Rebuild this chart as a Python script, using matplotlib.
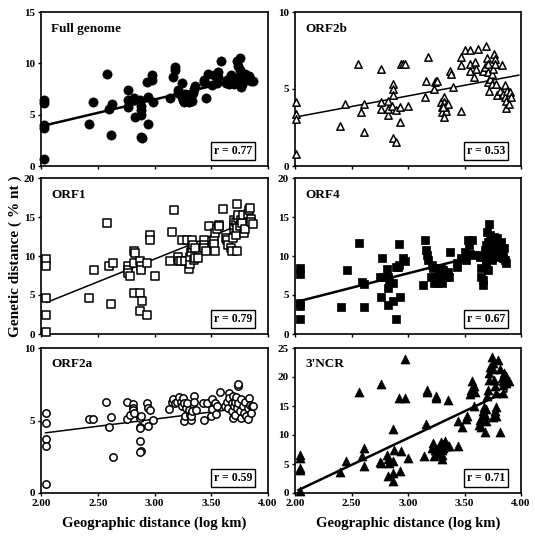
import matplotlib
matplotlib.use("Agg")
import matplotlib.pyplot as plt

plt.rcParams['font.family'] = ['Liberation Serif', 'DejaVu Serif']
plt.rcParams['font.weight'] = 'bold'

# ---- data ----
genome_x = [2.03, 2.03, 2.03, 2.03, 2.03,
            2.42, 2.46, 2.58, 2.60, 2.625, 2.62,
            2.77, 2.77, 2.77,
            2.82, 2.82, 2.83,
            2.87, 2.88, 2.88, 2.88,
            2.88, 2.89,
            2.93, 2.94, 2.94,
            2.98, 2.98, 2.99,
            3.14, 3.16, 3.18, 3.18,
            3.21, 3.21, 3.24, 3.24, 3.25, 3.26,
            3.28, 3.29, 3.31, 3.32, 3.34, 3.35, 3.36,
            3.45, 3.44, 3.44, 3.47, 3.51, 3.52, 3.56, 3.56, 3.59, 3.55,
            3.63, 3.64, 3.65, 3.67, 3.68, 3.69, 3.71,
            3.73, 3.75, 3.74, 3.75, 3.76, 3.76,
            3.77, 3.79, 3.80, 3.83, 3.85, 3.87,
            3.66, 3.70, 3.72, 3.78, 3.81, 3.30, 3.33, 3.27]
genome_y = [6.4, 6.1, 4.0, 3.7, 0.7,
            4.1, 6.2, 9.0, 5.55, 6.0, 3.0,
            7.4, 6.4, 5.7,
            6.6, 6.4, 4.8,
            6.4, 5.8, 5.5, 5.0,
            2.85, 2.7,
            8.2, 6.75, 4.1,
            8.9, 8.4, 6.2,
            6.65, 8.7, 9.6, 9.35,
            7.4, 7.1, 8.1, 6.75, 6.4, 6.2,
            6.4, 6.6, 6.4, 6.8, 7.1, 7.5, 7.8,
            6.65, 8.2, 8.4, 9.0, 7.9, 8.9, 9.2, 8.7, 10.2, 8.1,
            8.1, 8.4, 8.2, 8.9, 8.3, 8.5, 8.2,
            10.2, 10.5, 9.7, 9.35, 8.7, 7.65,
            8.0, 8.6, 9.0, 8.8, 8.3, 8.3,
            8.0, 8.0, 8.6, 8.2, 8.5, 6.2, 6.3, 7.0]

orf2b_x = [2.01, 2.01, 2.01, 2.01,
           2.40, 2.44, 2.56, 2.58, 2.61, 2.61,
           2.76, 2.76, 2.76, 2.82, 2.82, 2.82, 2.86,
           2.87, 2.87, 2.87, 2.87, 2.89, 2.89,
           2.93, 2.93, 2.94, 2.96, 2.97, 3.00,
           3.15, 3.16, 3.18, 3.23, 3.24, 3.25, 3.26,
           3.29, 3.30, 3.30, 3.32, 3.32, 3.33, 3.34, 3.35, 3.32, 3.31,
           3.37, 3.38, 3.40, 3.47, 3.47, 3.47,
           3.50, 3.55, 3.55, 3.55, 3.58, 3.59, 3.60, 3.62,
           3.66, 3.68, 3.69, 3.70, 3.71, 3.71, 3.71, 3.72, 3.73, 3.74,
           3.74, 3.75, 3.76, 3.77, 3.77, 3.78, 3.79, 3.81, 3.83, 3.84,
           3.86, 3.86, 3.87, 3.87, 3.88, 3.89, 3.90, 3.91]
orf2b_y = [4.15, 3.4, 3.07, 0.75,
           2.6, 4.05, 6.6, 3.5, 2.2, 4.05,
           6.3, 4.15, 3.7, 4.25, 3.3, 3.7, 3.9,
           5.3, 5.0, 4.6, 1.85, 1.55, 3.65,
           3.85, 2.85, 6.6, 6.65, 6.6, 3.9,
           4.5, 5.5, 7.1, 5.0, 5.45, 5.55, 5.55,
           4.15, 3.83, 3.5, 4.5, 4.15, 3.83, 3.6, 4.05, 3.2, 3.83,
           6.2, 6.0, 5.1, 6.55, 7.1, 3.6,
           7.55, 7.55, 6.65, 6.15, 5.8, 6.75, 6.3, 7.6,
           6.2, 6.4, 7.8, 7.0, 6.65, 6.1, 5.45, 4.9, 5.65, 6.0,
           5.35, 6.3, 7.3, 6.95, 6.65, 5.35, 4.6, 4.9, 6.55, 4.7,
           5.25, 4.5, 4.25, 3.75, 4.9, 4.05, 4.8, 4.5]

orf1_x = [2.04, 2.04, 2.04, 2.04, 2.04,
          2.42, 2.47, 2.58, 2.60, 2.63, 2.62,
          2.77, 2.77, 2.77, 2.78,
          2.82, 2.83, 2.82, 2.82,
          2.87, 2.88, 2.88, 2.87, 2.87, 2.89,
          2.93, 2.93, 2.96, 2.96, 3.00,
          3.14, 3.15, 3.17, 3.21, 3.22, 3.23, 3.24,
          3.27, 3.29, 3.30, 3.31, 3.31, 3.32, 3.33, 3.33, 3.34, 3.35, 3.36, 3.36, 3.38,
          3.44, 3.44, 3.44, 3.45, 3.48, 3.52, 3.52, 3.53, 3.53,
          3.55, 3.57, 3.57, 3.60,
          3.63, 3.64, 3.65, 3.67, 3.68, 3.69, 3.70, 3.70, 3.70, 3.72,
          3.72, 3.73, 3.74, 3.74, 3.75, 3.76, 3.77, 3.78, 3.79, 3.80,
          3.82, 3.83, 3.84, 3.85, 3.85, 3.87, 3.73, 3.73]
orf1_y = [9.6, 8.7, 4.6, 2.4, 0.25,
          4.65, 8.2, 14.2, 8.7, 9.1, 3.85,
          8.7, 8.25, 7.8, 7.4,
          10.6, 10.4, 9.1, 5.25,
          9.3, 8.7, 8.25, 5.25, 3.0, 4.2,
          9.1, 2.45, 12.7, 12.0, 7.4,
          9.3, 13.1, 15.9, 9.9, 9.3, 9.3, 12.0,
          9.3, 12.0, 8.3, 9.0, 9.9, 10.5, 11.0, 12.0, 11.45, 9.5, 11.0, 9.75, 9.75,
          12.0, 11.45, 11.0, 10.6, 13.8, 12.0, 11.6, 10.6, 12.9,
          13.4, 14.0, 13.8, 16.0,
          12.3, 12.0, 11.45, 11.0, 10.6, 12.3, 13.4, 14.0, 14.65, 14.3,
          12.7, 13.6, 14.9, 15.3, 13.9, 14.65, 14.2, 15.2, 13.0, 13.5,
          15.4, 15.9, 16.2, 14.7, 14.3, 14.1, 16.7, 10.6]

orf4_x = [2.04, 2.04, 2.04, 2.04, 2.04,
          2.41, 2.46, 2.57, 2.59, 2.61, 2.61,
          2.77, 2.75, 2.76, 2.79, 2.81, 2.82, 2.82, 2.82, 2.83,
          2.87, 2.87, 2.89, 2.89, 2.91, 2.92, 2.92, 2.93, 2.96, 2.97,
          3.13, 3.15, 3.16, 3.17, 3.18, 3.20, 3.21, 3.22, 3.23, 3.24,
          3.25, 3.26, 3.27, 3.29, 3.30, 3.30, 3.31, 3.32, 3.33, 3.35, 3.36,
          3.37, 3.43, 3.43, 3.47, 3.50, 3.51, 3.53, 3.54, 3.55, 3.57, 3.58,
          3.63, 3.64, 3.65, 3.65, 3.66, 3.66,
          3.67, 3.68, 3.69, 3.69, 3.70, 3.71, 3.72, 3.73, 3.73, 3.74,
          3.75, 3.76, 3.76, 3.77, 3.78, 3.79, 3.79, 3.80, 3.81, 3.82,
          3.82, 3.83, 3.84, 3.85, 3.86, 3.87, 3.84, 3.69, 3.71]
orf4_y = [8.4, 7.7, 3.95, 3.6, 1.95,
          3.5, 8.2, 11.7, 6.7, 6.4, 3.5,
          9.7, 7.3, 4.8, 7.3, 8.3, 7.3, 5.9, 3.75, 6.9,
          6.5, 4.2, 1.9, 8.6, 8.6, 8.85, 11.6, 4.8, 9.8, 9.4,
          6.3, 12.0, 10.8, 10.1, 9.5, 7.35, 8.85, 8.4, 6.5, 7.35,
          6.9, 6.5, 7.8, 8.4, 6.5, 7.15, 8.2, 7.8, 7.35, 8.0, 7.35,
          10.55, 9.05, 8.55, 9.8, 10.55, 9.5, 12.1, 11.4, 10.3, 12.0, 10.1,
          10.1, 9.9, 8.4, 7.35, 6.9, 6.3,
          9.9, 10.75, 9.5, 11.4, 13.1, 11.8, 14.1, 10.3, 12.7, 9.5,
          11.4, 12.5, 10.55, 11.8, 11.2, 10.1, 12.25, 9.9, 10.75, 11.8,
          11.4, 10.3, 9.7, 11.0, 9.5, 9.05, 9.9, 8.85, 8.2]

orf2a_x = [2.04, 2.04, 2.04, 2.04, 2.04,
           2.42, 2.46, 2.57, 2.60, 2.62, 2.63,
           2.76, 2.76, 2.78, 2.81, 2.81, 2.81, 2.82,
           2.87, 2.88, 2.87, 2.87, 2.87, 2.88, 2.87,
           2.93, 2.94, 2.96, 2.94, 2.99,
           3.13, 3.15, 3.16, 3.18, 3.20, 3.22, 3.23, 3.24, 3.25, 3.26, 3.26,
           3.27, 3.28, 3.29, 3.30, 3.31, 3.32, 3.32, 3.33, 3.35, 3.35, 3.37,
           3.43, 3.44, 3.46, 3.50, 3.51, 3.51, 3.53, 3.54, 3.55, 3.58,
           3.62, 3.64, 3.65, 3.66, 3.66, 3.68, 3.68, 3.69, 3.69, 3.70,
           3.71, 3.71, 3.72, 3.73, 3.74, 3.74, 3.74, 3.75, 3.76, 3.76,
           3.78, 3.79, 3.80, 3.81, 3.82, 3.82, 3.83, 3.84, 3.85, 3.86, 3.87]
orf2a_y = [5.5, 4.8, 3.75, 3.25, 0.65,
           5.1, 5.1, 6.3, 4.55, 5.25, 2.45,
           6.3, 5.1, 5.35, 6.15, 5.85, 5.75, 5.5,
           5.15, 5.3, 4.55, 4.45, 3.6, 2.9, 2.8,
           6.2, 5.85, 5.75, 4.65, 5.05,
           5.8, 6.3, 6.5, 6.2, 6.3, 6.6, 6.3, 6.0, 6.55, 6.2, 4.95,
           5.3, 5.85, 6.2, 5.7, 5.4, 5.05, 5.3, 5.65, 6.7, 6.25, 5.75,
           6.2, 5.05, 6.2, 5.3, 5.8, 6.45, 6.2, 5.45, 6.0, 7.0,
           6.0, 6.3, 5.85, 6.9, 6.55, 6.2, 5.65, 5.2, 6.7, 6.0,
           6.3, 5.4, 6.6, 5.85, 6.2, 7.35, 7.55, 5.65, 5.15, 6.45,
           6.0, 5.55, 6.25, 5.3, 5.85, 5.1, 6.55, 6.1, 5.55, 6.0, 6.0]

ncr_x = [2.04, 2.04, 2.04, 2.04, 2.04,
         2.40, 2.45, 2.57, 2.59, 2.61, 2.61,
         2.76, 2.75, 2.76, 2.81, 2.82, 2.82, 2.83,
         2.87, 2.88, 2.87, 2.87, 2.87, 2.92, 2.97, 2.93, 2.94, 2.97, 3.00,
         3.14, 3.16, 3.17, 3.17, 3.21, 3.22, 3.23, 3.24, 3.25, 3.25,
         3.27, 3.27, 3.29, 3.30, 3.30, 3.31, 3.32, 3.33, 3.33, 3.35,
         3.30, 3.35, 3.36, 3.44, 3.44, 3.48, 3.51, 3.52,
         3.55, 3.56, 3.57, 3.58, 3.59, 3.58,
         3.63, 3.64, 3.65, 3.66, 3.66, 3.67, 3.68, 3.68, 3.69, 3.69,
         3.70, 3.71, 3.72, 3.72, 3.73, 3.74, 3.75, 3.75, 3.76, 3.77,
         3.78, 3.78, 3.80, 3.81, 3.83, 3.84, 3.84, 3.85, 3.87, 3.87,
         3.89, 3.75, 3.77, 3.78, 3.81, 3.84]
ncr_y = [6.6, 6.0, 4.3, 4.0, 0.3,
         3.55, 5.45, 17.5, 6.3, 7.75, 4.7,
         18.85, 5.3, 5.2, 6.6, 5.85, 2.9, 5.2,
         11.0, 7.5, 5.45, 3.45, 2.0, 16.4, 16.4, 3.75, 7.2, 23.1, 6.0,
         6.3, 11.9, 17.8, 17.5, 7.75, 8.6, 6.3, 7.5, 16.7, 16.4,
         6.9, 8.15, 8.75, 7.5, 6.6, 7.75, 8.6, 9.0, 8.05, 8.15,
         5.85, 16.1, 8.15, 12.35, 8.15, 11.4, 12.8, 13.2,
         17.0, 17.8, 19.25, 18.4, 17.5, 15.05,
         11.8, 12.6, 11.4, 13.3, 14.1, 14.9, 13.5, 10.45, 14.4, 12.35,
         16.7, 17.8, 19.5, 20.7, 21.8, 23.45, 22.5, 21.3, 19.5, 18.4,
         17.2, 14.9, 23.0, 21.3, 19.8, 18.7, 19.25, 20.7, 20.2, 19.0,
         19.25, 13.1, 14.1, 13.3, 10.6, 17.2]

# regression line ends (x0, y0, x1, y1) and r values
fits = {
    'Full genome': (2.05, 4.0, 3.85, 8.7),
    'ORF2b': (2.02, 3.2, 3.98, 5.9),
    'ORF1': (2.05, 4.05, 3.82, 14.4),
    'ORF4': (2.02, 4.15, 3.87, 11.0),
    'ORF2a': (2.04, 4.15, 3.87, 5.95),
    "3'NCR": (2.03, 0.5, 3.87, 17.5),
}
r_labels = {'Full genome': '0.77', 'ORF2b': '0.53', 'ORF1': '0.79',
            'ORF4': '0.67', 'ORF2a': '0.59', "3'NCR": '0.71'}
x_ticks = [2.00, 2.50, 3.00, 3.50, 4.00]

panels = [
    # name, x, y, ymax, ytick step, marker, facecolor, size, line width
    ('Full genome', genome_x, genome_y, 15, 5, 'o', 'black', 44, 1.8),
    ('ORF2b', orf2b_x, orf2b_y, 10, 5, '^', 'white', 28, 1.1),
    ('ORF1', orf1_x, orf1_y, 20, 5, 's', 'white', 30, 1.1),
    ('ORF4', orf4_x, orf4_y, 20, 5, 's', 'black', 38, 1.8),
    ('ORF2a', orf2a_x, orf2a_y, 10, 5, 'o', 'white', 28, 1.1),
    ("3'NCR", ncr_x, ncr_y, 25, 5, '^', 'black', 42, 1.8),
]

fig = plt.figure(figsize=(5.35, 5.38), dpi=100)

col_left = [41 / 535, 295 / 535]
col_width = [227 / 535, 226 / 535]
rows = [(12, 166), (178, 334), (348, 493)]

for i, (name, xs, ys, ymax, step, mk, fc, size, lw) in enumerate(panels):
    r, c = divmod(i, 2)
    top, bot = rows[r]
    ax = fig.add_axes([col_left[c], 1 - bot / 538, col_width[c], (bot - top) / 538])

    ax.scatter(xs, ys, marker=mk, s=size, facecolors=fc, edgecolors='black',
               linewidths=1.1 if fc == 'white' else 0.5, zorder=3, clip_on=False)
    x0, y0, x1, y1 = fits[name]
    ax.plot([x0, x1], [y0, y1], color='black', lw=lw, zorder=2)

    ax.set_xlim(2.0, 4.0)
    ax.set_ylim(0, ymax)
    ax.set_yticks(range(0, ymax + 1, step))
    ax.set_xticks(x_ticks)
    ax.tick_params(length=2.5, width=1, labelsize=8, pad=2)
    for sp in ax.spines.values():
        sp.set_linewidth(1.2)

    if r == 2:
        ax.set_xticklabels(['%.2f' % t for t in x_ticks], fontweight='bold')
        ax.set_xlabel('Geographic distance (log km)', fontsize=10.5,
                      fontweight='bold', labelpad=6)
    else:
        ax.set_xticklabels([])
    for lab in ax.get_yticklabels():
        lab.set_fontweight('bold')

    ax.text(0.045, 0.93, name, transform=ax.transAxes, fontsize=9.5,
            fontweight='bold', va='top', ha='left')
    ax.text(0.93, 0.06, 'r = ' + r_labels[name], transform=ax.transAxes,
            fontsize=8.5, fontweight='bold', ha='right', va='bottom',
            bbox=dict(boxstyle='square,pad=0.25', fc='white', ec='black', lw=1.0),
            zorder=5)

fig.text(0.028, 1 - 256 / 538, 'Genetic distance ( % nt )', rotation=90,
         fontsize=11, fontweight='bold', ha='center', va='center')

fig.savefig('out.png', dpi=100, facecolor='white')
